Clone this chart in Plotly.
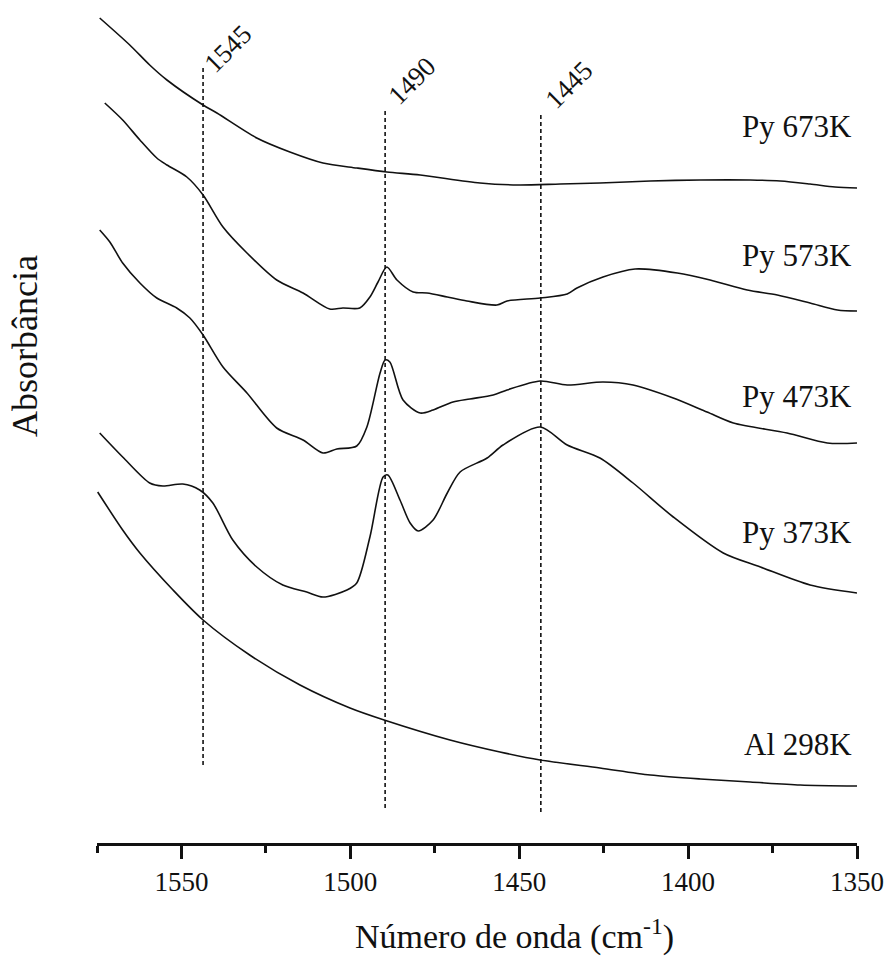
import plotly.graph_objects as go

# ---- data ----
wn_673 = [1574.2, 1565.3, 1559.4, 1554.3, 1543.6, 1539.5, 1527.7, 1517.9, 1508.1, 1498.1, 1489.2,
          1479.3, 1461.6, 1450.3, 1437.9, 1426.1, 1411.2, 1396.4, 1381.6, 1372.7, 1363.9, 1356.5, 1350.0]
abs_673 = [8.25, 7.98, 7.78, 7.63, 7.38, 7.30, 7.05, 6.91, 6.80, 6.75, 6.71,
           6.68, 6.60, 6.58, 6.59, 6.60, 6.62, 6.63, 6.63, 6.62, 6.59, 6.56, 6.55]

wn_573 = [1572.7, 1567.4, 1562.3, 1557.3, 1554.3, 1548.4, 1543.6, 1537.7, 1530.6, 1521.8,
          1514.0, 1506.1, 1502.2, 1497.2, 1494.2, 1491.8, 1489.2, 1486.2, 1481.4, 1477.3,
          1471.3, 1465.5, 1456.6, 1453.6, 1443.8, 1435.8, 1432.9, 1425.2, 1415.7, 1403.2,
          1393.5, 1382.5, 1373.6, 1363.9, 1355.8, 1350.0]
abs_573 = [7.40, 7.23, 7.03, 6.85, 6.78, 6.66, 6.48, 6.16, 5.90, 5.63,
           5.50, 5.34, 5.35, 5.35, 5.46, 5.61, 5.76, 5.63, 5.51, 5.50,
           5.46, 5.42, 5.38, 5.42, 5.45, 5.49, 5.55, 5.66, 5.74, 5.70,
           5.63, 5.53, 5.48, 5.40, 5.33, 5.32]

wn_473 = [1574.2, 1571.2, 1567.4, 1562.3, 1557.3, 1551.4, 1547.5, 1543.6, 1537.7, 1530.6,
          1521.8, 1514.0, 1508.1, 1504.0, 1498.1, 1495.1, 1491.2, 1489.7, 1488.3, 1484.4,
          1479.3, 1475.5, 1469.6, 1464.6, 1457.7, 1453.6, 1443.8, 1435.8, 1425.2, 1416.3,
          1404.4, 1394.4, 1386.6, 1370.7, 1358.8, 1350.0]
abs_473 = [6.13, 6.01, 5.80, 5.60, 5.45, 5.35, 5.25, 5.08, 4.76, 4.50,
           4.15, 4.03, 3.90, 3.94, 3.97, 4.16, 4.70, 4.83, 4.81, 4.43,
           4.30, 4.33, 4.41, 4.44, 4.48, 4.53, 4.62, 4.58, 4.61, 4.58,
           4.45, 4.31, 4.20, 4.10, 4.00, 4.00]

wn_373 = [1574.2, 1567.4, 1559.4, 1555.5, 1549.6, 1544.6, 1540.7, 1534.8, 1527.7, 1520.0,
          1512.9, 1508.1, 1501.0, 1498.1, 1494.2, 1490.3, 1488.9, 1485.3, 1482.3, 1479.9,
          1475.5, 1471.3, 1467.5, 1459.5, 1454.8, 1443.8, 1435.8, 1426.1, 1416.3, 1404.4,
          1389.6, 1378.6, 1363.9, 1350.0]
abs_373 = [4.10, 3.86, 3.60, 3.57, 3.59, 3.53, 3.40, 3.03, 2.76, 2.58,
           2.51, 2.46, 2.53, 2.60, 3.06, 3.66, 3.68, 3.43, 3.20, 3.12,
           3.23, 3.50, 3.71, 3.85, 3.98, 4.16, 3.98, 3.85, 3.60, 3.26,
           2.90, 2.76, 2.58, 2.50]

wn_298 = [1574.8, 1567.4, 1562.3, 1552.5, 1543.6, 1529.8, 1514.9, 1500.1, 1490.0, 1470.5,
          1455.7, 1443.8, 1426.1, 1411.2, 1396.4, 1381.6, 1366.8, 1350.0]
abs_298 = [3.51, 3.13, 2.90, 2.53, 2.23, 1.88, 1.58, 1.35, 1.23, 1.03,
           0.91, 0.83, 0.75, 0.68, 0.64, 0.61, 0.58, 0.57]

series_names = ["Py 673K", "Py 573K", "Py 473K", "Py 373K", "Al 298K"]
series_label_y = [7.17, 5.88, 4.47, 3.11, 0.99]

mark_wn = [1543.6, 1489.7, 1443.6]
mark_top = [7.78, 7.33, 7.28]
mark_bottom = [0.78, 0.35, 0.31]
mark_labels = ["1545", "1490", "1445"]
mark_label_wn = [1536.3, 1481.8, 1435.3]
mark_label_y = [7.94, 7.62, 7.58]

x_ticks = [1550, 1500, 1450, 1400, 1350]
x_ticklabels = ["1550", "1500", "1450", "1400", "1350"]

# ---- figure ----
FONT = "Times New Roman, Liberation Serif, serif"
INK = "#111111"

fig = go.Figure()

for wx, ay in [(wn_673, abs_673), (wn_573, abs_573), (wn_473, abs_473),
               (wn_373, abs_373), (wn_298, abs_298)]:
    fig.add_trace(go.Scatter(x=wx, y=ay, mode="lines",
                             line=dict(color=INK, width=1.6, shape="spline", smoothing=0.8),
                             showlegend=False, hoverinfo="skip"))

for w, t, b in zip(mark_wn, mark_top, mark_bottom):
    fig.add_trace(go.Scatter(x=[w, w], y=[b, t], mode="lines",
                             line=dict(color=INK, width=1.6, dash="4px,3px"),
                             showlegend=False, hoverinfo="skip"))

annotations = []
for name, yy in zip(series_names, series_label_y):
    annotations.append(dict(x=1351.0, y=yy, xref="x", yref="y", text=name,
                            showarrow=False, xanchor="right", yanchor="middle",
                            font=dict(family=FONT, size=31, color=INK)))
for lab, lx, ly in zip(mark_labels, mark_label_wn, mark_label_y):
    annotations.append(dict(x=lx, y=ly, xref="x", yref="y", text=lab, textangle=-45,
                            showarrow=False, xanchor="center", yanchor="middle",
                            font=dict(family=FONT, size=27, color=INK)))
annotations.append(dict(x=-0.0947, y=0.5896, xref="paper", yref="paper", text="Absorbância",
                        textangle=-90, showarrow=False, xanchor="center", yanchor="middle",
                        font=dict(family=FONT, size=36, color=INK)))
annotations.append(dict(x=0.549, y=-0.1091, xref="paper", yref="paper",
                        text="Número de onda (cm<sup>-1</sup>)",
                        showarrow=False, xanchor="center", yanchor="middle",
                        font=dict(family=FONT, size=34, color=INK)))

fig.update_layout(
    width=885, height=963,
    margin=dict(l=97, r=28, t=0, b=120),
    paper_bgcolor="white", plot_bgcolor="white",
    font=dict(family=FONT, color=INK),
    annotations=annotations,
    xaxis=dict(range=[1575, 1350], showgrid=False, zeroline=False,
               showline=True, linecolor=INK, linewidth=2.5,
               ticks="outside", ticklen=13, tickwidth=2.5, tickcolor=INK,
               tickvals=x_ticks, ticktext=x_ticklabels,
               tickfont=dict(family=FONT, size=27, color=INK),
               minor=dict(ticks="outside", ticklen=7, tickwidth=2.5, tickcolor=INK,
                          tickvals=[1575, 1525, 1475, 1425, 1375])),
    yaxis=dict(range=[0, 8.43], visible=False),
)

fig.write_html("out.html")
